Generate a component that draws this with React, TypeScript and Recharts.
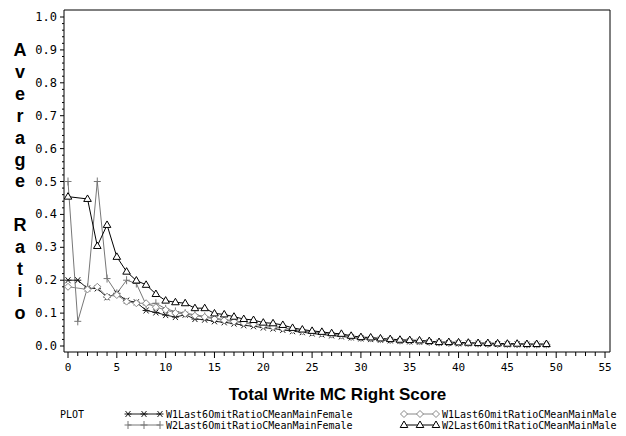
import { LineChart, Line, XAxis, YAxis, ReferenceLine } from 'recharts';

// Total Write MC Right Score (0..49)
const scores = [
  0, 1, 2, 3, 4, 5, 6, 7, 8, 9, 10, 11, 12, 13, 14, 15, 16, 17, 18, 19, 20, 21, 22, 23, 24,
  25, 26, 27, 28, 29, 30, 31, 32, 33, 34, 35, 36, 37, 38, 39, 40, 41, 42, 43, 44, 45, 46, 47, 48, 49,
];

const w1Female = [
  0.2, 0.2, 0.175, 0.175, 0.148, 0.16, 0.138, 0.133, 0.108, 0.102, 0.094, 0.088, 0.095, 0.082, 0.08,
  0.075, 0.072, 0.068, 0.063, 0.06, 0.056, 0.053, 0.049, 0.045, 0.042, 0.038, 0.035, 0.032, 0.029,
  0.026, 0.023, 0.021, 0.019, 0.017, 0.015, 0.014, 0.013, 0.012, 0.01, 0.009, 0.008, 0.008, 0.007,
  0.006, 0.006, 0.005, 0.005, 0.004, 0.004, 0.004,
];

const w2Female = [
  0.5, 0.075, 0.178, 0.5, 0.205, 0.16, 0.2, 0.19, 0.125, 0.13, 0.113, 0.105, 0.1, 0.095, 0.09,
  0.085, 0.08, 0.077, 0.072, 0.068, 0.064, 0.06, 0.056, 0.05, 0.047, 0.043, 0.04, 0.036, 0.033,
  0.029, 0.026, 0.024, 0.021, 0.019, 0.017, 0.016, 0.015, 0.013, 0.011, 0.01, 0.009, 0.009, 0.008,
  0.007, 0.007, 0.006, 0.006, 0.005, 0.005, 0.005,
];

const w1Male = [
  0.18, null, 0.172, 0.18, 0.15, 0.155, 0.135, 0.13, 0.13, 0.118, 0.11, 0.1, 0.098, 0.092, 0.088,
  0.082, 0.078, 0.074, 0.07, 0.066, 0.062, 0.058, 0.054, 0.049, 0.045, 0.041, 0.038, 0.035, 0.032,
  0.028, 0.025, 0.023, 0.021, 0.019, 0.017, 0.015, 0.014, 0.013, 0.011, 0.01, 0.009, 0.008, 0.008,
  0.007, 0.006, 0.006, 0.005, 0.005, 0.005, 0.005,
];

const w2Male = [
  0.454, null, 0.447, 0.304, 0.368, 0.271, 0.226, 0.199, 0.186, 0.158, 0.138, 0.133, 0.13, 0.115,
  0.115, 0.099, 0.096, 0.089, 0.082, 0.079, 0.071, 0.069, 0.064, 0.055, 0.05, 0.046, 0.043, 0.039,
  0.037, 0.031, 0.027, 0.026, 0.023, 0.021, 0.019, 0.018, 0.017, 0.015, 0.012, 0.012, 0.011, 0.01,
  0.009, 0.009, 0.008, 0.007, 0.007, 0.006, 0.006, 0.006,
];

const xMajorTicks = [0, 5, 10, 15, 20, 25, 30, 35, 40, 45, 50, 55];
const yMajorTicks = [0, 0.1, 0.2, 0.3, 0.4, 0.5, 0.6, 0.7, 0.8, 0.9, 1];
const yLabelChars = ['A', 'v', 'e', 'r', 'a', 'g', 'e', '', 'R', 'a', 't', 'i', 'o'];

const data = scores.map((s, i) => ({
  score: s,
  w1f: w1Female[i],
  w2f: w2Female[i],
  w1m: w1Male[i],
  w2m: w2Male[i],
}));

// major ticks plus unlabelled minor ticks in between
const xTicks = Array.from({ length: 56 }, (_, i) => i);
const yTicks = Array.from({ length: 51 }, (_, i) => Number((i * 0.02).toFixed(2)));

const X_DOMAIN = [-0.41, 55.51];
const Y_DOMAIN = [-0.0182, 1.0213];
const MONO = '"DejaVu Sans Mono", monospace';
const BOLD = '"Liberation Sans", Arial, sans-serif';

const C_STAR = '#1a1a1a';
const C_PLUS = '#777777';
const C_DIAM = '#888888';
const C_TRI = '#000000';

function Star({ cx, cy, color }: any) {
  return (
    <g stroke={color} strokeWidth={1}>
      <line x1={cx - 3.5} y1={cy} x2={cx + 3.5} y2={cy} />
      <line x1={cx - 2.5} y1={cy - 3} x2={cx + 2.5} y2={cy + 3} />
      <line x1={cx - 2.5} y1={cy + 3} x2={cx + 2.5} y2={cy - 3} />
    </g>
  );
}

function Plus({ cx, cy, color }: any) {
  return (
    <g stroke={color} strokeWidth={1}>
      <line x1={cx - 3.5} y1={cy} x2={cx + 3.5} y2={cy} />
      <line x1={cx} y1={cy - 4} x2={cx} y2={cy + 4} />
    </g>
  );
}

function Diamond({ cx, cy, color }: any) {
  return (
    <polygon
      points={`${cx},${cy - 3.5} ${cx + 3.5},${cy} ${cx},${cy + 3.5} ${cx - 3.5},${cy}`}
      fill="#fff"
      stroke={color}
      strokeWidth={1}
    />
  );
}

function Triangle({ cx, cy, color }: any) {
  return (
    <polygon
      points={`${cx},${cy - 4} ${cx + 3.8},${cy + 2.5} ${cx - 3.8},${cy + 2.5}`}
      fill="#fff"
      stroke={color}
      strokeWidth={1}
    />
  );
}

const makeDot = (Shape: any, color: string) => (props: any) => {
  const { cx, cy, index, value } = props;
  if (cx == null || cy == null || value == null) return <g key={`d${index}`} />;
  return (
    <g key={`d${index}`}>
      <Shape cx={cx} cy={cy} color={color} />
    </g>
  );
};

function XTick({ x, y, payload }: any) {
  const v = payload.value;
  const major = xMajorTicks.includes(v);
  return (
    <g>
      <line x1={x} x2={x} y1={y} y2={y + (major ? 6 : 4)} stroke="#000" />
      {major && (
        <text x={x} y={y + 19} textAnchor="middle" fontFamily={MONO} fontSize={11} fill="#000">
          {v}
        </text>
      )}
    </g>
  );
}

function YTick({ x, y, payload }: any) {
  const v = payload.value;
  const major = yMajorTicks.some((t) => Math.abs(t - v) < 1e-6);
  return (
    <g>
      <line x1={x} x2={x - (major ? 4 : 2)} y1={y} y2={y} stroke="#000" />
      {major && (
        <text x={x - 7} y={y + 4} textAnchor="end" fontFamily={MONO} fontSize={12} fill="#000">
          {v.toFixed(1)}
        </text>
      )}
    </g>
  );
}

function LegendItem({ x, y, Shape, color, label }: any) {
  return (
    <g>
      <line x1={x} x2={x + 32} y1={y} y2={y} stroke={color} />
      <Shape cx={x} cy={y} color={color} />
      <Shape cx={x + 16} cy={y} color={color} />
      <Shape cx={x + 32} cy={y} color={color} />
      <text x={x + 38} y={y + 3.5} fontFamily={MONO} fontSize={10} fill="#000">
        {label}
      </text>
    </g>
  );
}

export default function App() {
  return (
    <div style={{ position: 'absolute', left: 0, top: 0, width: 626, height: 436, background: '#fff' }}>
      <LineChart
        width={626}
        height={436}
        data={data}
        margin={{ top: 10, right: 16, bottom: 54, left: 0 }}
      >
        <XAxis
          dataKey="score"
          type="number"
          domain={X_DOMAIN}
          ticks={xTicks}
          interval={0}
          allowDataOverflow
          tickLine={false}
          tickSize={0}
          tickMargin={0}
          height={30}
          tick={<XTick />}
          axisLine={{ stroke: '#000' }}
        />
        <YAxis
          type="number"
          domain={Y_DOMAIN}
          ticks={yTicks}
          interval={0}
          allowDataOverflow
          width={64}
          tickLine={false}
          tickSize={0}
          tickMargin={0}
          tick={<YTick />}
          axisLine={{ stroke: '#000' }}
        />
        {/* top and right edges of the frame */}
        <ReferenceLine y={Y_DOMAIN[1]} stroke="#000" ifOverflow="extendDomain" />
        <ReferenceLine x={X_DOMAIN[1]} stroke="#000" ifOverflow="extendDomain" />
        <Line
          dataKey="w1f"
          stroke={C_STAR}
          strokeWidth={1}
          dot={makeDot(Star, C_STAR)}
          activeDot={false}
          isAnimationActive={false}
        />
        <Line
          dataKey="w2f"
          stroke={C_PLUS}
          strokeWidth={1}
          dot={makeDot(Plus, C_PLUS)}
          activeDot={false}
          isAnimationActive={false}
        />
        <Line
          dataKey="w1m"
          stroke={C_DIAM}
          strokeWidth={1}
          connectNulls
          dot={makeDot(Diamond, C_DIAM)}
          activeDot={false}
          isAnimationActive={false}
        />
        <Line
          dataKey="w2m"
          stroke={C_TRI}
          strokeWidth={1}
          connectNulls
          dot={makeDot(Triangle, C_TRI)}
          activeDot={false}
          isAnimationActive={false}
        />
      </LineChart>

      {/* vertical stacked y-axis title */}
      {yLabelChars.map((ch, i) => (
        <div
          key={i}
          style={{
            position: 'absolute',
            left: 8,
            width: 24,
            top: 50 + i * 21.9 - 11,
            height: 22,
            lineHeight: '22px',
            textAlign: 'center',
            fontFamily: BOLD,
            fontWeight: 'bold',
            fontSize: 18,
            color: '#000',
          }}
        >
          {ch}
        </div>
      ))}

      {/* x-axis title */}
      <div
        style={{
          position: 'absolute',
          left: 0,
          width: 675,
          top: 384,
          height: 22,
          lineHeight: '22px',
          textAlign: 'center',
          fontFamily: BOLD,
          fontWeight: 'bold',
          fontSize: 17,
          color: '#000',
        }}
      >
        Total Write MC Right Score
      </div>

      {/* legend */}
      <svg style={{ position: 'absolute', left: 0, top: 400 }} width={626} height={36}>
        <text x={60} y={17.5} fontFamily={MONO} fontSize={10} fill="#000">
          PLOT
        </text>
        <LegendItem x={128} y={14} Shape={Star} color={C_STAR} label="W1Last6OmitRatioCMeanMainFemale" />
        <LegendItem x={128} y={25} Shape={Plus} color={C_PLUS} label="W2Last6OmitRatioCMeanMainFemale" />
        <LegendItem x={404} y={14} Shape={Diamond} color={C_DIAM} label="W1Last6OmitRatioCMeanMainMale" />
        <LegendItem x={404} y={25} Shape={Triangle} color={C_TRI} label="W2Last6OmitRatioCMeanMainMale" />
      </svg>
    </div>
  );
}
